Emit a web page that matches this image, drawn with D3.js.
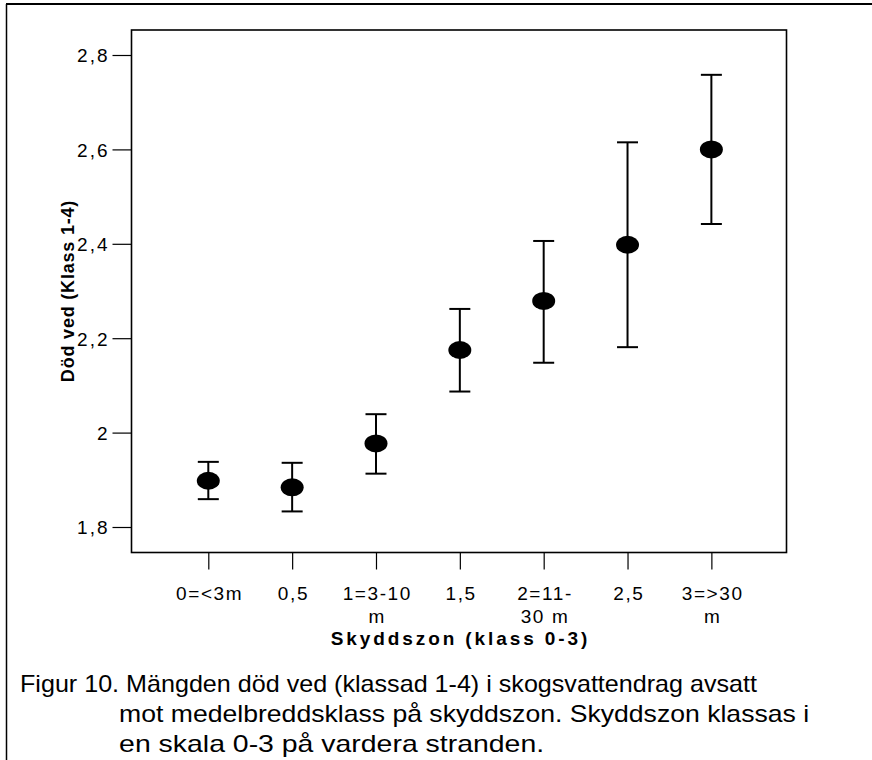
<!DOCTYPE html>
<html>
<head>
<meta charset="utf-8">
<script src="https://cdn.jsdelivr.net/npm/d3@7"></script>
<style>
  body { margin: 0; background: #fff; }
  svg { display: block; }
  text { font-family: "Liberation Sans", Arial, sans-serif; fill: #000; }
  .narrow { font-family: "Liberation Sans Narrow", "Liberation Sans", Arial, sans-serif; }
</style>
</head>
<body>
<div id="chart"></div>
<script>
// data
const xPos = [0, 0.5, 1, 1.5, 2, 2.5, 3];
const xLabels = [["0=<3m"], ["0,5"], ["1=3-10", "m"], ["1,5"], ["2=11-", "30 m"], ["2,5"], ["3=>30", "m"]];
const means = [1.898, 1.884, 1.977, 2.175, 2.279, 2.398, 2.600];
const upper = [1.938, 1.936, 2.039, 2.262, 2.406, 2.615, 2.758];
const lower = [1.859, 1.833, 1.913, 2.087, 2.148, 2.181, 2.442];
const yTicks = [1.8, 2, 2.2, 2.4, 2.6, 2.8];
const figLabel = "Figur 10. ";
const caption = [
  figLabel + "Mängden död ved (klassad 1-4) i skogsvattendrag avsatt",
  "mot medelbreddsklass på skyddszon. Skyddszon klassas i",
  "en skala 0-3 på vardera stranden."
];
const captionWidths = [737, 690, 425]; // line lengths as measured in the figure

const W = 872, H = 760;
const frame = { left: 131.5, top: 30, right: 786.5, bottom: 552.5 };

const svg = d3.select('#chart').append('svg')
  .attr('width', W)
  .attr('height', H);

// outer box (only top and left visible)
svg.append('line').attr('x1', 6).attr('x2', W).attr('y1', 4).attr('y2', 4)
  .attr('stroke', '#000').attr('stroke-width', 2);
svg.append('line').attr('x1', 6.5).attr('x2', 6.5).attr('y1', 4).attr('y2', H)
  .attr('stroke', '#000').attr('stroke-width', 1.5);

// scales
const x = d3.scaleLinear().domain([-0.458, 3.448]).range([frame.left, frame.right]);
const y = d3.scaleLinear().domain([1.8, 2.8]).range([527, 55]);

// frame
svg.append('rect')
  .attr('x', frame.left).attr('y', frame.top)
  .attr('width', frame.right - frame.left).attr('height', frame.bottom - frame.top)
  .attr('fill', 'none').attr('stroke', '#000').attr('stroke-width', 1.6);

// y axis
const yAxis = svg.append('g')
  .attr('transform', `translate(${frame.left},0)`)
  .call(d3.axisLeft(y).tickValues(yTicks).tickSize(19).tickPadding(3)
    .tickFormat(d => String(+d.toFixed(1)).replace('.', ',')));
yAxis.select('.domain').remove();
yAxis.selectAll('line').attr('stroke', '#000').attr('stroke-width', 1.2);
yAxis.selectAll('text')
  .attr('class', 'narrow')
  .style('font-size', '19px')
  .style('letter-spacing', '2px')
  .attr('dy', '0.36em')
  .attr('fill', '#000');

// x axis
const xAxis = svg.append('g')
  .attr('transform', `translate(0,${frame.bottom})`)
  .call(d3.axisBottom(x).tickValues(xPos).tickSize(17).tickFormat(''));
xAxis.select('.domain').remove();
xAxis.selectAll('line').attr('stroke', '#000').attr('stroke-width', 1.2);
xAxis.selectAll('.tick').each(function(d, i) {
  const t = d3.select(this).append('text')
    .attr('class', 'narrow')
    .attr('text-anchor', 'middle')
    .attr('y', 47.5)
    .style('font-size', '19px')
    .style('letter-spacing', '1.6px')
    .attr('fill', '#000');
  xLabels[i].forEach((s, k) => {
    t.append('tspan').attr('x', 0.8).attr('dy', k === 0 ? 0 : 23).text(s);
  });
});

// axis titles
svg.append('text')
  .attr('class', 'narrow')
  .attr('x', (frame.left + frame.right) / 2 + 1.5)
  .attr('y', 645)
  .attr('text-anchor', 'middle')
  .style('font-size', '19px')
  .style('font-weight', 'bold')
  .style('letter-spacing', '2.9px')
  .text('Skyddszon (klass 0-3)');

svg.append('text')
  .attr('transform', `translate(74,${(y(1.8) + y(2.8)) / 2}) rotate(-90)`)
  .attr('text-anchor', 'middle')
  .style('font-size', '18px')
  .style('font-weight', 'bold')
  .style('letter-spacing', '0.8px')
  .text('Död ved (Klass 1-4)');

// error bars
const capHalf = 10.5;
const bars = svg.append('g').selectAll('g')
  .data(xPos.map((p, i) => ({ p, m: means[i], hi: upper[i], lo: lower[i] })))
  .enter().append('g');
bars.append('line')
  .attr('x1', d => x(d.p)).attr('x2', d => x(d.p))
  .attr('y1', d => y(d.hi)).attr('y2', d => y(d.lo))
  .attr('stroke', '#000').attr('stroke-width', 2);
bars.append('line')
  .attr('x1', d => x(d.p) - capHalf).attr('x2', d => x(d.p) + capHalf)
  .attr('y1', d => y(d.hi)).attr('y2', d => y(d.hi))
  .attr('stroke', '#000').attr('stroke-width', 2);
bars.append('line')
  .attr('x1', d => x(d.p) - capHalf).attr('x2', d => x(d.p) + capHalf)
  .attr('y1', d => y(d.lo)).attr('y2', d => y(d.lo))
  .attr('stroke', '#000').attr('stroke-width', 2);
bars.append('ellipse')
  .attr('cx', d => x(d.p)).attr('cy', d => y(d.m))
  .attr('rx', 11.5).attr('ry', 9)
  .attr('fill', '#000');

// caption with hanging indent after "Figur 10. "
const cap = svg.append('g').style('font-size', '24px');
const capLeft = 20;
const line1 = cap.append('text')
  .attr('x', capLeft).attr('y', 692)
  .text(caption[0]);
const natural = line1.node().getComputedTextLength();
line1.attr('textLength', captionWidths[0]).attr('lengthAdjust', 'spacingAndGlyphs');
const probe = cap.append('text').text(figLabel);
const indent = probe.node().getComputedTextLength() * captionWidths[0] / natural;
probe.remove();
caption.slice(1).forEach((s, k) => {
  cap.append('text')
    .attr('x', capLeft + indent)
    .attr('y', 692 + 30 * (k + 1))
    .attr('textLength', captionWidths[k + 1])
    .attr('lengthAdjust', 'spacingAndGlyphs')
    .text(s);
});
</script>
</body>
</html>
